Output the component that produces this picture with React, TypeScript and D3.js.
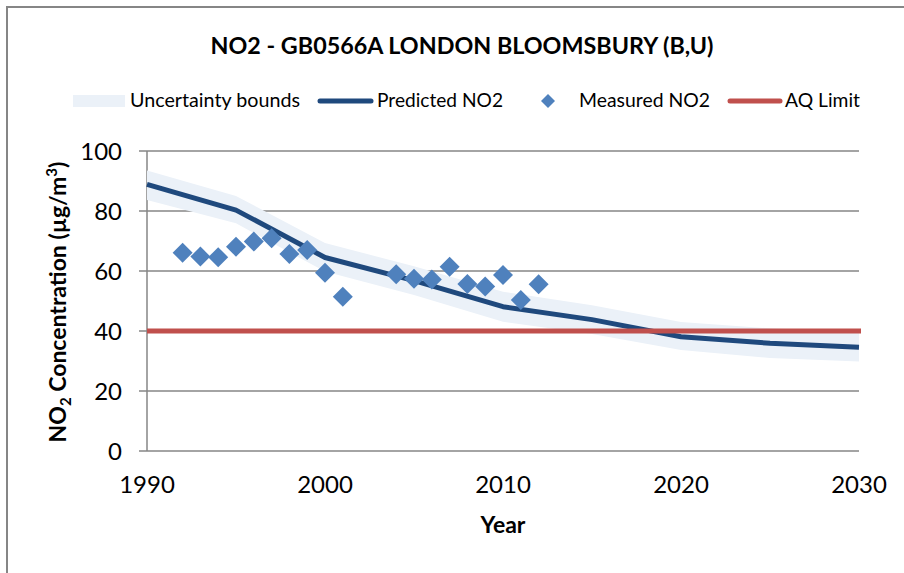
import React from "react";
import * as d3 from "d3";

const predYears = [1990, 1995, 2000, 2005, 2010, 2015, 2020, 2025, 2030];
const predicted = [88.9, 80.3, 64.5, 56.8, 48.1, 43.8, 38.1, 35.9, 34.6];
const upperBound = [93.5, 85.0, 69.3, 61.6, 53.1, 48.6, 43.0, 40.9, 39.6];
const lowerBound = [83.7, 75.9, 59.8, 52.0, 43.1, 39.0, 33.7, 31.0, 29.8];

const measYears = [1992, 1993, 1994, 1995, 1996, 1997, 1998, 1999, 2000, 2001, 2004, 2005, 2006, 2007, 2008, 2009, 2010, 2011, 2012];
const measured = [66.1, 64.8, 64.6, 68.1, 69.8, 70.9, 65.7, 67.0, 59.4, 51.4, 58.9, 57.4, 57.2, 61.4, 55.7, 54.8, 58.7, 50.3, 55.6];

const aqLimit = 40;
const xTicks = [1990, 2000, 2010, 2020, 2030];
const yTicks = [0, 20, 40, 60, 80, 100];

const FONT = "Lato, 'Open Sans', sans-serif";
const GRID = "#868686";
const BAND = "#ebf1f8";
const DARK = "#1f497d";
const MID = "#4f81bd";
const RED = "#c0504d";

export default function App() {
  const x = d3.scaleLinear().domain([1990, 2030]).range([147, 859]);
  const y = d3.scaleLinear().domain([0, 100]).range([451, 151]);

  const idx = predYears.map((_, i) => i);
  const area = d3
    .area<number>()
    .x((i) => x(predYears[i]))
    .y0((i) => y(lowerBound[i]))
    .y1((i) => y(upperBound[i]));
  const line = d3
    .line<number>()
    .x((i) => x(predYears[i]))
    .y((i) => y(predicted[i]));

  const diamond = (cx: number, cy: number, r: number) =>
    `M${cx},${cy - r}L${cx + r},${cy}L${cx},${cy + r}L${cx - r},${cy}Z`;

  return (
    <svg
      width={904}
      height={573}
      style={{ position: "absolute", left: 0, top: 0, background: "#fff" }}
      fontFamily={FONT}
    >
      <rect x={7} y={7} width={1000} height={1000} fill="#fff" stroke={GRID} strokeWidth={2} />

      {/* title */}
      <text x={462} y={54} textAnchor="middle" fontWeight="bold" fontSize={23} fill="#000" textLength={503} lengthAdjust="spacingAndGlyphs">
        NO2 - GB0566A LONDON BLOOMSBURY (B,U)
      </text>

      {/* legend */}
      <rect x={73} y={95} width={52} height={12} fill={BAND} />
      <text x={130} y={107} fontSize={19} fill="#000" textLength={170} lengthAdjust="spacingAndGlyphs">Uncertainty bounds</text>
      <line x1={320} x2={371} y1={101} y2={101} stroke={DARK} strokeWidth={5} strokeLinecap="round" />
      <text x={377} y={107} fontSize={19} fill="#000" textLength={126} lengthAdjust="spacingAndGlyphs">Predicted NO2</text>
      <path d={diamond(548, 101, 7)} fill={MID} />
      <text x={579} y={107} fontSize={19} fill="#000" textLength={131} lengthAdjust="spacingAndGlyphs">Measured NO2</text>
      <line x1={730} x2={780} y1={101} y2={101} stroke={RED} strokeWidth={5} strokeLinecap="round" />
      <text x={785} y={107} fontSize={19} fill="#000" textLength={75} lengthAdjust="spacingAndGlyphs">AQ Limit</text>

      {/* gridlines */}
      {yTicks.map((t) => (
        <line key={"g" + t} x1={x(1990) - 8} x2={x(2030)} y1={y(t)} y2={y(t)} stroke={GRID} strokeWidth={1.5} />
      ))}
      <line x1={x(1990)} x2={x(1990)} y1={y(100)} y2={y(0)} stroke={GRID} strokeWidth={1.5} />

      {/* y tick labels */}
      {yTicks.map((t) => (
        <text key={"yl" + t} x={122} y={y(t) + 8.5} textAnchor="end" fontSize={24} fill="#000">
          {t}
        </text>
      ))}
      {/* x tick labels */}
      {xTicks.map((t) => (
        <text key={"xl" + t} x={x(t)} y={493} textAnchor="middle" fontSize={24} fill="#000">
          {t}
        </text>
      ))}

      {/* axis titles */}
      <text x={503} y={533} textAnchor="middle" fontWeight="bold" fontSize={23} fill="#000">Year</text>
      <text transform="translate(66,302) rotate(-90)" textAnchor="middle" fontWeight="bold" fontSize={23} fill="#000">
        NO<tspan fontSize={15} dy={5}>2</tspan>
        <tspan dy={-5}> Concentration (µg/m</tspan>
        <tspan fontSize={15} dy={-9}>3</tspan>
        <tspan dy={9}>)</tspan>
      </text>

      {/* series */}
      <path d={area(idx) || ""} fill={BAND} />
      <path d={line(idx) || ""} fill="none" stroke={DARK} strokeWidth={5} strokeLinejoin="round" />
      {measYears.map((yr, i) => (
        <path key={"m" + yr} d={diamond(x(yr), y(measured[i]), 10)} fill={MID} />
      ))}
      <line x1={x(1990)} x2={x(2030) + 2} y1={y(aqLimit)} y2={y(aqLimit)} stroke={RED} strokeWidth={5} />
    </svg>
  );
}
